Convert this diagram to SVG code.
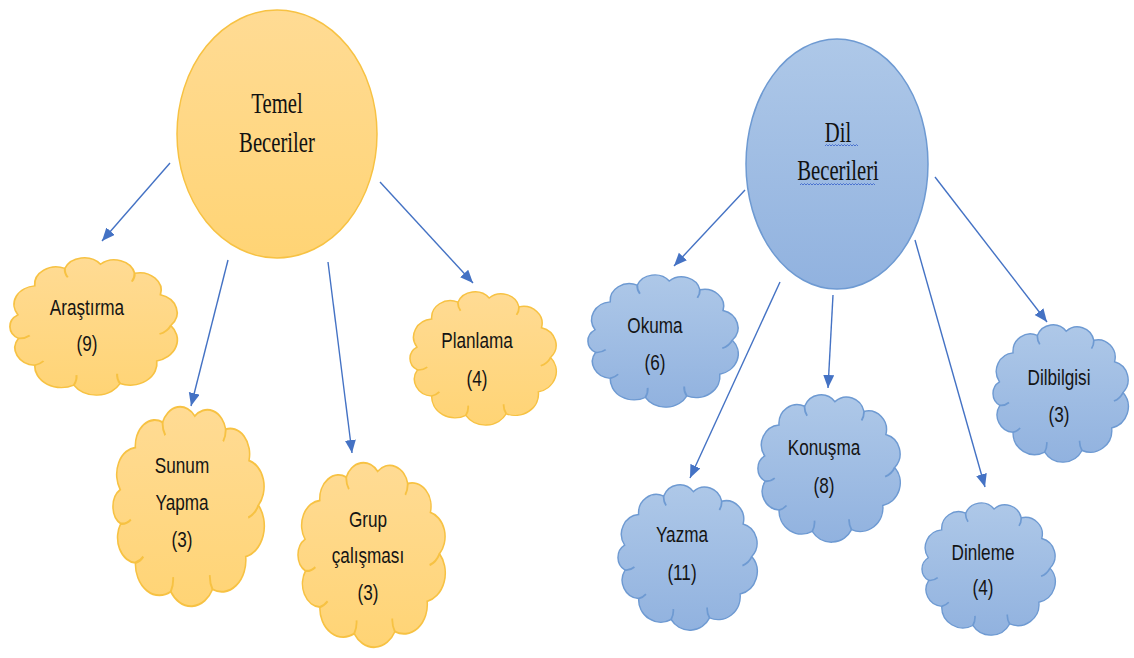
<svg xmlns="http://www.w3.org/2000/svg" xmlns:xlink="http://www.w3.org/1999/xlink" width="1134" height="658" viewBox="0 0 1134 658">
  <style>
    .title { font-family: "Liberation Serif", "DejaVu Serif", serif; font-size: 30px; fill: #111; text-anchor: middle; }
    .lbl { font-family: "Liberation Sans", Arial, sans-serif; font-size: 22px; fill: #141414; text-anchor: middle; }
    .orange { fill: url(#gOrange); stroke: #F7C243; }
    .blue { fill: url(#gBlue); stroke: #6E9AD2; }
    .cloudline { fill: none; stroke-width: 1.2; vector-effect: non-scaling-stroke; }
    .cloudshape path { vector-effect: non-scaling-stroke; stroke-width: 1.3; }
    .conn { stroke: #4472C4; stroke-width: 1.4; fill: none; marker-end: url(#arrow); }
    .squiggle { fill: none; stroke: #4A72D0; stroke-width: 1; }
  </style>
  <defs>
    <linearGradient id="gOrange" x1="0" y1="0" x2="0" y2="1">
      <stop offset="0" stop-color="#FFDB94"/>
      <stop offset="1" stop-color="#FFD475"/>
    </linearGradient>
    <linearGradient id="gBlue" x1="0" y1="0" x2="0" y2="1">
      <stop offset="0" stop-color="#AEC8E8"/>
      <stop offset="1" stop-color="#91B2DF"/>
    </linearGradient>
    <marker id="arrow" markerUnits="userSpaceOnUse" markerWidth="14" markerHeight="12" refX="13" refY="5.5" orient="auto">
      <path d="M0,0 L13,5.5 L0,11 Z" fill="#4472C4"/>
    </marker>
    <!-- scalloped cloud outline in a 100x100 box -->
    <path id="cloud" d="M6.2,42.4 A13.1,13.1 0 0 1 15.9,22 A12.4,12.4 0 0 1 33.3,9.7 A12.1,12.1 0 0 1 53.9,6.7 A12,12 0 0 1 73.6,13.1 A12.4,12.4 0 0 1 88.5,28.3 A13.1,13.1 0 0 1 94.5,50 A15.3,15.3 0 0 1 86.4,75 A15.4,15.4 0 0 1 65.2,90.9 A15.5,15.5 0 0 1 38.5,92 A15.4,15.4 0 0 1 15.9,78 A12.3,12.3 0 0 1 6.5,59 A9.6,9.6 0 0 1 6.2,42.4 Z"/>
    <!-- small inner curves where the bubbles overlap -->
    <path id="cloudInner" d="M6.5,59 A9,9 0 0 0 13,57 M33.3,9.7 A10,10 0 0 0 35,16 M73.6,13.1 A10,10 0 0 1 72,19 M94.5,50 A12,12 0 0 1 88,56 M65.2,90.9 A12,12 0 0 1 63.5,84 M38.5,92 A12,12 0 0 0 40,85 M15.9,78 A10,10 0 0 0 21,75"/>
  </defs>

  <rect width="1134" height="658" fill="#ffffff"/>

  <!-- connectors -->
  <g id="connectors">
    <line class="conn" x1="170" y1="163" x2="102" y2="241"/>
    <line class="conn" x1="228" y1="260" x2="191" y2="406"/>
    <line class="conn" x1="328" y1="262" x2="352" y2="453"/>
    <line class="conn" x1="380" y1="182" x2="473" y2="283"/>
    <line class="conn" x1="745" y1="190" x2="674" y2="266"/>
    <line class="conn" x1="780" y1="282" x2="690" y2="478"/>
    <line class="conn" x1="833" y1="295" x2="828" y2="388"/>
    <line class="conn" x1="915" y1="240" x2="985" y2="487"/>
    <line class="conn" x1="935" y1="177" x2="1047" y2="322"/>
  </g>

  <!-- main topic: Temel Beceriler -->
  <g id="temel">
    <ellipse class="orange" cx="277" cy="134" rx="100" ry="124" stroke-width="1.5"/>
    <g transform="translate(277 0) scale(0.69 1)">
      <text class="title" x="0" y="113">Temel</text>
      <text class="title" x="0" y="152">Beceriler</text>
    </g>
  </g>

  <!-- main topic: Dil Becerileri -->
  <g id="dil">
    <ellipse class="blue" cx="837" cy="164" rx="91" ry="125" stroke-width="1.5"/>
    <g transform="translate(838 0) scale(0.69 1)">
      <text class="title" x="0" y="142">Dil</text>
      <text class="title" x="0" y="180">Becerileri</text>
    </g>
    <path class="squiggle" d="M825,146 l1.5,-1.5 l1.5,1.5 l1.5,-1.5 l1.5,1.5 l1.5,-1.5 l1.5,1.5 l1.5,-1.5 l1.5,1.5 l1.5,-1.5 l1.5,1.5 l1.5,-1.5 l1.5,1.5 l1.5,-1.5 l1.5,1.5 l1.5,-1.5 l1.5,1.5 l1.5,-1.5 l1.5,1.5 l1.5,-1.5 l1.5,1.5 l1.5,-1.5 l1.5,1.5"/>
    <path class="squiggle" d="M800,185 l1.5,-1.5 l1.5,1.5 l1.5,-1.5 l1.5,1.5 l1.5,-1.5 l1.5,1.5 l1.5,-1.5 l1.5,1.5 l1.5,-1.5 l1.5,1.5 l1.5,-1.5 l1.5,1.5 l1.5,-1.5 l1.5,1.5 l1.5,-1.5 l1.5,1.5 l1.5,-1.5 l1.5,1.5 l1.5,-1.5 l1.5,1.5 l1.5,-1.5 l1.5,1.5 l1.5,-1.5 l1.5,1.5 l1.5,-1.5 l1.5,1.5 l1.5,-1.5 l1.5,1.5 l1.5,-1.5 l1.5,1.5 l1.5,-1.5 l1.5,1.5 l1.5,-1.5 l1.5,1.5 l1.5,-1.5 l1.5,1.5 l1.5,-1.5 l1.5,1.5 l1.5,-1.5 l1.5,1.5 l1.5,-1.5 l1.5,1.5 l1.5,-1.5 l1.5,1.5 l1.5,-1.5 l1.5,1.5 l1.5,-1.5 l1.5,1.5 l1.5,-1.5 l1.5,1.5"/>
  </g>

  <!-- Temel Beceriler sub-skills -->
  <g id="arastirma">
    <g class="cloudshape orange" transform="translate(7.2 254.7) scale(1.731 1.417)">
      <use href="#cloud"/><use href="#cloudInner" class="cloudline"/>
    </g>
    <g transform="translate(87 0) scale(0.78 1)">
      <text class="lbl" x="0" y="315">Araştırma</text>
      <text class="lbl" x="0" y="351">(9)</text>
    </g>
  </g>

  <g id="sunum">
    <g class="cloudshape orange" transform="translate(110.5 402.3) scale(1.565 2.058)">
      <use href="#cloud"/><use href="#cloudInner" class="cloudline"/>
    </g>
    <g transform="translate(182 0) scale(0.78 1)">
      <text class="lbl" x="0" y="473">Sunum</text>
      <text class="lbl" x="0" y="510">Yapma</text>
      <text class="lbl" x="0" y="547">(3)</text>
    </g>
  </g>

  <g id="grup">
    <g class="cloudshape orange" transform="translate(295.6 458.6) scale(1.523 1.903)">
      <use href="#cloud"/><use href="#cloudInner" class="cloudline"/>
    </g>
    <g transform="translate(368 0) scale(0.78 1)">
      <text class="lbl" x="0" y="527">Grup</text>
      <text class="lbl" x="0" y="563">çalışması</text>
      <text class="lbl" x="0" y="600">(3)</text>
    </g>
  </g>

  <g id="planlama">
    <g class="cloudshape orange" transform="translate(407.6 288.8) scale(1.513 1.375)">
      <use href="#cloud"/><use href="#cloudInner" class="cloudline"/>
    </g>
    <g transform="translate(477 0) scale(0.78 1)">
      <text class="lbl" x="0" y="348">Planlama</text>
      <text class="lbl" x="0" y="386">(4)</text>
    </g>
  </g>

  <!-- Dil Becerileri sub-skills -->
  <g id="okuma">
    <g class="cloudshape blue" transform="translate(585.5 271.9) scale(1.554 1.365)">
      <use href="#cloud"/><use href="#cloudInner" class="cloudline"/>
    </g>
    <g transform="translate(655 0) scale(0.78 1)">
      <text class="lbl" x="0" y="333">Okuma</text>
      <text class="lbl" x="0" y="370">(6)</text>
    </g>
  </g>

  <g id="yazma">
    <g class="cloudshape blue" transform="translate(615.7 481.6) scale(1.44 1.499)">
      <use href="#cloud"/><use href="#cloudInner" class="cloudline"/>
    </g>
    <g transform="translate(682 0) scale(0.78 1)">
      <text class="lbl" x="0" y="542">Yazma</text>
      <text class="lbl" x="0" y="580">(11)</text>
    </g>
  </g>

  <g id="konusma">
    <g class="cloudshape blue" transform="translate(755.6 391.5) scale(1.472 1.52)">
      <use href="#cloud"/><use href="#cloudInner" class="cloudline"/>
    </g>
    <g transform="translate(824 0) scale(0.78 1)">
      <text class="lbl" x="0" y="455">Konuşma</text>
      <text class="lbl" x="0" y="493">(8)</text>
    </g>
  </g>

  <g id="dinleme">
    <g class="cloudshape blue" transform="translate(919.8 499.9) scale(1.378 1.365)">
      <use href="#cloud"/><use href="#cloudInner" class="cloudline"/>
    </g>
    <g transform="translate(983 0) scale(0.78 1)">
      <text class="lbl" x="0" y="560">Dinleme</text>
      <text class="lbl" x="0" y="595">(4)</text>
    </g>
  </g>

  <g id="dilbilgisi">
    <g class="cloudshape blue" transform="translate(990.8 321.7) scale(1.399 1.417)">
      <use href="#cloud"/><use href="#cloudInner" class="cloudline"/>
    </g>
    <g transform="translate(1059 0) scale(0.78 1)">
      <text class="lbl" x="0" y="385">Dilbilgisi</text>
      <text class="lbl" x="0" y="422">(3)</text>
    </g>
  </g>
</svg>
